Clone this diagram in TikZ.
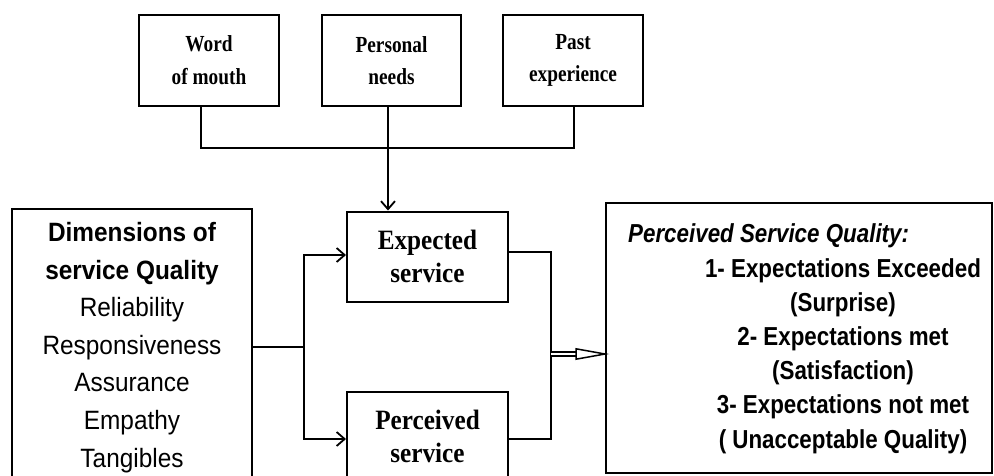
\documentclass[tikz,border=0pt]{standalone}
\usepackage{fontspec}
\setmainfont{Liberation Serif}
\newfontfamily\topf[FakeStretch=0.84]{Liberation Serif}
\newfontfamily\midf[FakeStretch=0.9]{Liberation Serif}
\newfontfamily\leftf[FakeStretch=0.92]{Liberation Sans}
\newfontfamily\rightf[FakeStretch=0.86]{Liberation Sans}
\usetikzlibrary{arrows.meta,calc}
\begin{document}
\begin{tikzpicture}[x=1pt,y=-1pt,
  box/.style={draw, line width=2pt, inner sep=0pt, align=center},
  topbox/.style={box, minimum width=140pt, minimum height=91pt,
    font=\topf\bfseries\fontsize{23}{32.7}\selectfont},
  midbox/.style={box, minimum width=161pt, minimum height=90pt,
    font=\midf\bfseries\fontsize{28}{33}\selectfont},
  conn/.style={line width=1.8pt},
  arr/.style={conn, -{Straight Barb[length=8pt,width=14pt,line width=1.8pt]}},
  leftfont/.style={font=\leftf\fontsize{26.5}{37.6}\selectfont},
  rightfont/.style={font=\rightf\bfseries\fontsize{26}{34.2}\selectfont}]
\useasboundingbox[fill=white] (0,0) rectangle (994,475);

% top boxes
\node[topbox] (wom) at (209,60.5) {Word\\of mouth};
\node[topbox, minimum width=139pt] (pn) at (391.5,60.5) {Personal\\needs};
\node[topbox] (pe) at (573,60.5) {Past\\experience};

% middle boxes
\node[midbox] (exp) at (427.5,256.5) {Expected\\service};
\node[midbox] (per) at (427.5,436.5) {Perceived\\service};

% left box
\node[box, minimum width=240pt, minimum height=291pt] (dim) at (132,354.5) {};
\node[leftfont, inner sep=0pt, align=center, anchor=north] (dimtext) at (132,222)
  {{\bfseries Dimensions of}\\{\bfseries service Quality}\\Reliability\\Responsiveness\\Assurance\\Empathy\\Tangibles};

% right box
\node[box, minimum width=386pt, minimum height=270pt] (pq) at (799,338) {};
\node[rightfont, inner sep=0pt, anchor=base west] (pqtitle) at (628,242)
  {\itshape Perceived Service Quality:};
\node[rightfont, inner sep=0pt, align=center, anchor=north] (pqlist) at (843,258)
  {1- Expectations Exceeded\\(Surprise)\\2- Expectations met\\(Satisfaction)\\3- Expectations not met\\( Unacceptable Quality)};

% top connectors
\coordinate (bus) at (388,148);
\draw[conn] ([xshift=-8pt]wom.south) |- (bus);
\draw[conn] ([xshift=1pt]pe.south) |- (bus);
\draw[conn] ([xshift=-3.5pt]pn.south) -- (bus);
\draw[arr] (bus) -- (bus |- exp.north);

% left connectors
\coordinate (split) at (304,347);
\draw[conn] (dim.east |- split) -- (split);
\draw[arr] (split) |- ([yshift=1.5pt]exp.west);
\draw[arr] (split) |- ([yshift=-2.5pt]per.west);

% right connectors
\coordinate (join) at (551,354);
\draw[conn] ([yshift=4.5pt]exp.east) -| (join);
\draw[conn] ([yshift=-2.5pt]per.east) -| (join);
\coordinate (tip) at (pq.west |- join);
\draw[line width=1.3pt, double, double distance=2.6pt] (join) -- ($(tip)+(-29,0)$);
\draw[line width=1.5pt, fill=white, line join=miter] ($(tip)+(-29,-5.2)$) -- (tip) -- ($(tip)+(-29,5.2)$) -- cycle;
\end{tikzpicture}
\end{document}
